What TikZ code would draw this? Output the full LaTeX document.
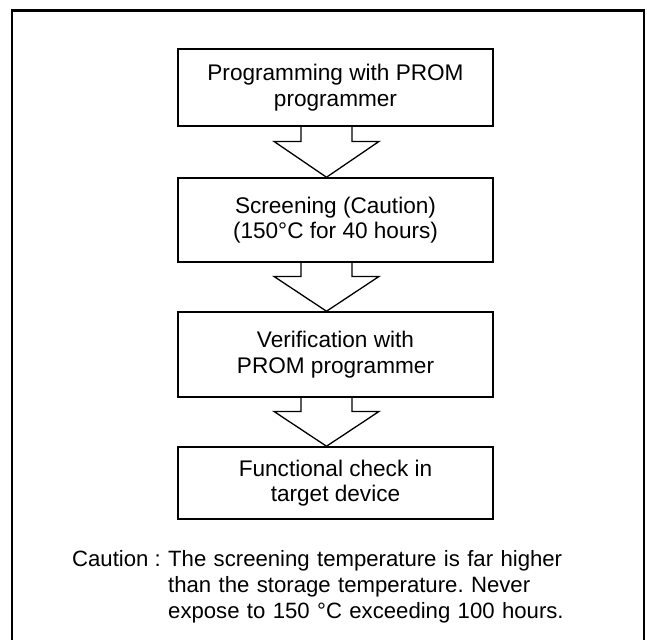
\documentclass[tikz,border=0pt]{standalone}
\usepackage{fontspec}
\setmainfont{Liberation Sans}
\usetikzlibrary{calc}
\frenchspacing

\newcommand{\flowfont}{\fontsize{22.6}{25.5}\selectfont}
\tikzset{
  stage/.style={draw,line width=1.5pt,minimum width=315pt,inner sep=0pt,
    align=center,font=\flowfont},
  hollow/.style={draw,line width=1.3pt,line join=miter},
  note/.style={inner sep=0pt,font=\fontsize{22.15}{25.8}\selectfont},
}
% block arrow from the bottom of one stage to the top of the next
\newcommand{\flowarrow}[3]{%
  \draw[hollow] let \p1=(#1.south), \p2=(#2.north) in
    (\x1-34.5,\y1) -- (\x1-34.5,\y1-#3) -- (\x1-61.5,\y1-#3) -- (\x2-9,\y2)
    -- (\x1+43.5,\y1-#3) -- (\x1+16.5,\y1-#3) -- (\x1+16.5,\y1);}

\begin{document}
\begin{tikzpicture}[x=1pt,y=1pt]
\useasboundingbox (0,0) rectangle (647,639);
% frame (bottom edge lies below the page)
\draw[line width=2.3pt] (12.2,-5) -- (12.2,628.5) -- (644,628.5) -- (644,-5);
% stages
\node[stage,minimum height=77pt] (prog) at (335.5,551.5) {Programming with PROM\\programmer};
\node[stage,minimum height=84pt] (screen) at (335.5,419) {Screening (Caution)\\(150°C for 40 hours)};
\node[stage,minimum height=85pt] (verify) at (335.5,284.5) {Verification with\\PROM programmer};
\node[stage,minimum height=72pt] (check) at (335.5,156) {Functional check in\\target device};
% arrows
\flowarrow{prog}{screen}{14.7}
\flowarrow{screen}{verify}{13.7}
\flowarrow{verify}{check}{13.7}
% caution
\node[note,anchor=base east] (cautionlbl) at (161,72) {Caution :};
\node[note,anchor=base west,text width=410pt,align=left] (cautiontxt) at (168,72)
  {The screening temperature is far higher\\
   \makebox[396pt][s]{than the storage temperature. Never}\\
   expose to 150 °C exceeding 100 hours.};
\end{tikzpicture}
\end{document}
